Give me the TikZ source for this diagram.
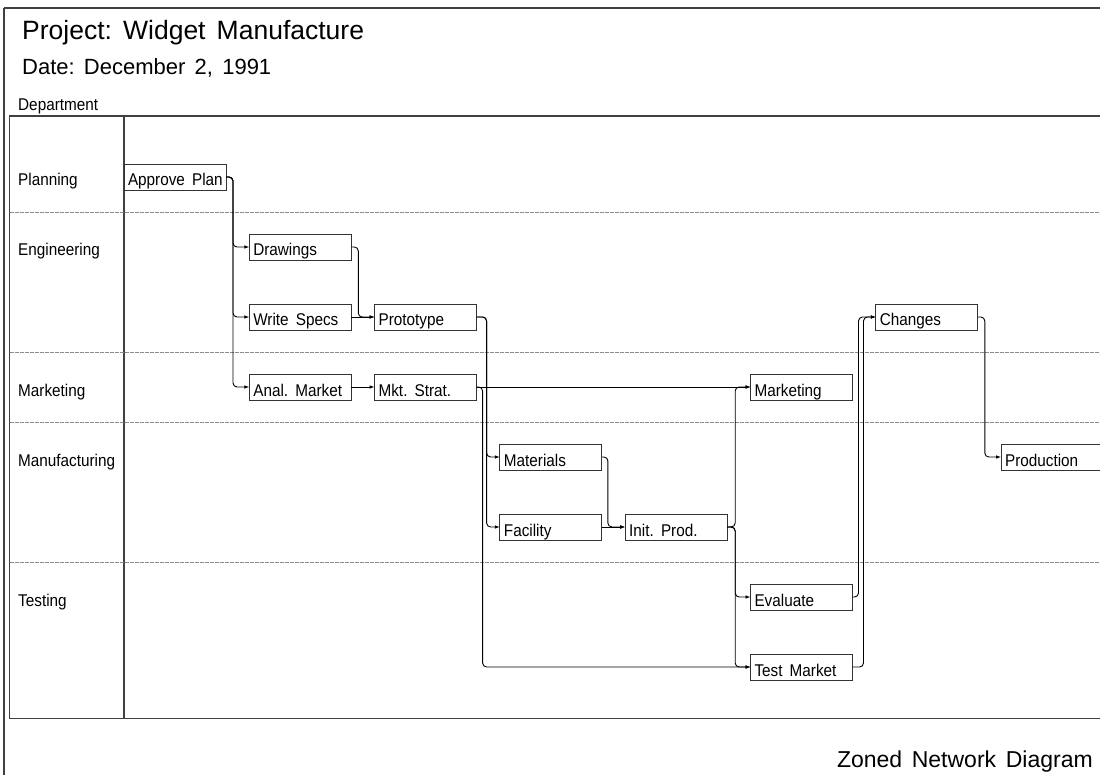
\documentclass[tikz,border=0pt]{standalone}
\usepackage{fontspec}
\setmainfont{Liberation Sans}
\newfontfamily\sasfont{Liberation Sans}[FakeStretch=0.9]
\usetikzlibrary{arrows.meta}
\newcommand{\bx}[1]{\makebox[94pt][l]{#1}}
\newcommand{\wsp}{\hspace{0.42em}}
\tikzset{
  frame/.style={draw=black!75, line width=1.1pt},
  zoneline/.style={draw=black!45, line width=0.7pt, dash pattern=on 4pt off 1pt},
  actbox/.style={draw=black!80, line width=0.9pt, anchor=west, minimum width=102pt,
    text height=22pt, text depth=4pt, inner ysep=0pt, inner xsep=4pt, outer sep=0pt,
    font=\sasfont\fontsize{17pt}{19pt}\selectfont},
  zonelabel/.style={anchor=base west, inner sep=0pt, font=\sasfont\fontsize{17pt}{19pt}\selectfont},
  conn/.style={draw=black, line width=0.9pt, rounded corners=4pt,
    -{Latex[length=5pt,width=3.6pt]}},
  straightconn/.style={draw=black, line width=0.9pt, -{Latex[length=5pt,width=3.6pt]}}
}
\begin{document}
\begin{tikzpicture}[x=1pt,y=-1pt]
\useasboundingbox (0,0) rectangle (1100,775);
\clip (0,0) rectangle (1100,775);
\fill[white] (0,0) rectangle (1100,775);

% titles
\node[anchor=base west, inner sep=0pt, font=\fontsize{26.5pt}{30pt}\selectfont] (title) at (22,40) {Project:\wsp Widget\wsp Manufacture};
\node[anchor=base west, inner sep=0pt, font=\fontsize{22pt}{25pt}\selectfont] (date) at (22,75) {Date:\wsp December\wsp 2,\wsp 1991};
\node[zonelabel] (dept) at (18,111) {Department};
\node[anchor=base east, inner sep=0pt, font=\fontsize{23pt}{26pt}\selectfont] (zoned) at (1093,767) {Zoned\wsp Network\wsp Diagram};

% frames
\draw[frame] (4,8) -- (1110,8);
\draw[frame] (4,8) -- (4,790);
\draw[frame] (9.5,116) rectangle (1110,718.5);
\draw[frame] (124,116) -- (124,718.5);

% zone separators
\foreach \yy in {212,352,422,562} {
  \draw[zoneline] (9.5,\yy) -- (1100,\yy);
}

% zone labels
\node[zonelabel] (zplan) at (18,186) {Planning};
\node[zonelabel] (zeng) at (18,256) {Engineering};
\node[zonelabel] (zmkt) at (18,396) {Marketing};
\node[zonelabel] (zman) at (18,466) {Manufacturing};
\node[zonelabel] (ztest) at (18,606) {Testing};

% activities
\node[actbox] (ap) at (124,177) {\bx{Approve\wsp Plan}};
\node[actbox] (dr) at (249.3,247) {\bx{Drawings}};
\node[actbox] (ws) at (249.3,317) {\bx{Write\wsp Specs}};
\node[actbox] (am) at (249.3,387) {\bx{Anal.\wsp Market}};
\node[actbox] (pr) at (374.6,317) {\bx{Prototype}};
\node[actbox] (ms) at (374.6,387) {\bx{Mkt.\wsp Strat.}};
\node[actbox] (mat) at (499.9,457) {\bx{Materials}};
\node[actbox] (fac) at (499.9,527) {\bx{Facility}};
\node[actbox] (ip) at (625.2,527) {\bx{Init.\wsp Prod.}};
\node[actbox] (mk) at (750.5,387) {\bx{Marketing}};
\node[actbox] (ev) at (750.5,597) {\bx{Evaluate}};
\node[actbox] (tm) at (750.5,667) {\bx{Test\wsp Market}};
\node[actbox] (ch) at (875.8,317) {\bx{Changes}};
\node[actbox] (prod) at (1001.1,457) {\bx{Production}};

% connectors
\draw[conn] (ap.east) -- ++(7,0) |- (dr.west);
\draw[conn] (ap.east) -- ++(7,0) |- (ws.west);
\draw[conn] (ap.east) -- ++(7,0) |- (am.west);
\draw[conn] (dr.east) -- ++(7,0) |- (pr.west);
\draw[straightconn] (ws.east) -- (pr.west);
\draw[straightconn] (am.east) -- (ms.west);
\draw[conn] (pr.east) -- ++(10,0) |- (mat.west);
\draw[conn] (pr.east) -- ++(10,0) |- (fac.west);
\draw[straightconn] (ms.east) -- (mk.west);
\draw[conn] (ms.east) -- ++(6,0) |- (tm.west);
\draw[conn] (mat.east) -- ++(6,0) |- (ip.west);
\draw[straightconn] (fac.east) -- (ip.west);
\draw[conn] (ip.east) -- ++(8,0) |- (mk.west);
\draw[conn] (ip.east) -- ++(8,0) |- (ev.west);
\draw[conn] (ip.east) -- ++(8,0) |- (tm.west);
\draw[conn] (ev.east) -- ++(6,0) |- (ch.west);
\draw[conn] (tm.east) -- ++(11,0) |- (ch.west);
\draw[conn] (ch.east) -- ++(7,0) |- (prod.west);
\end{tikzpicture}
\end{document}
